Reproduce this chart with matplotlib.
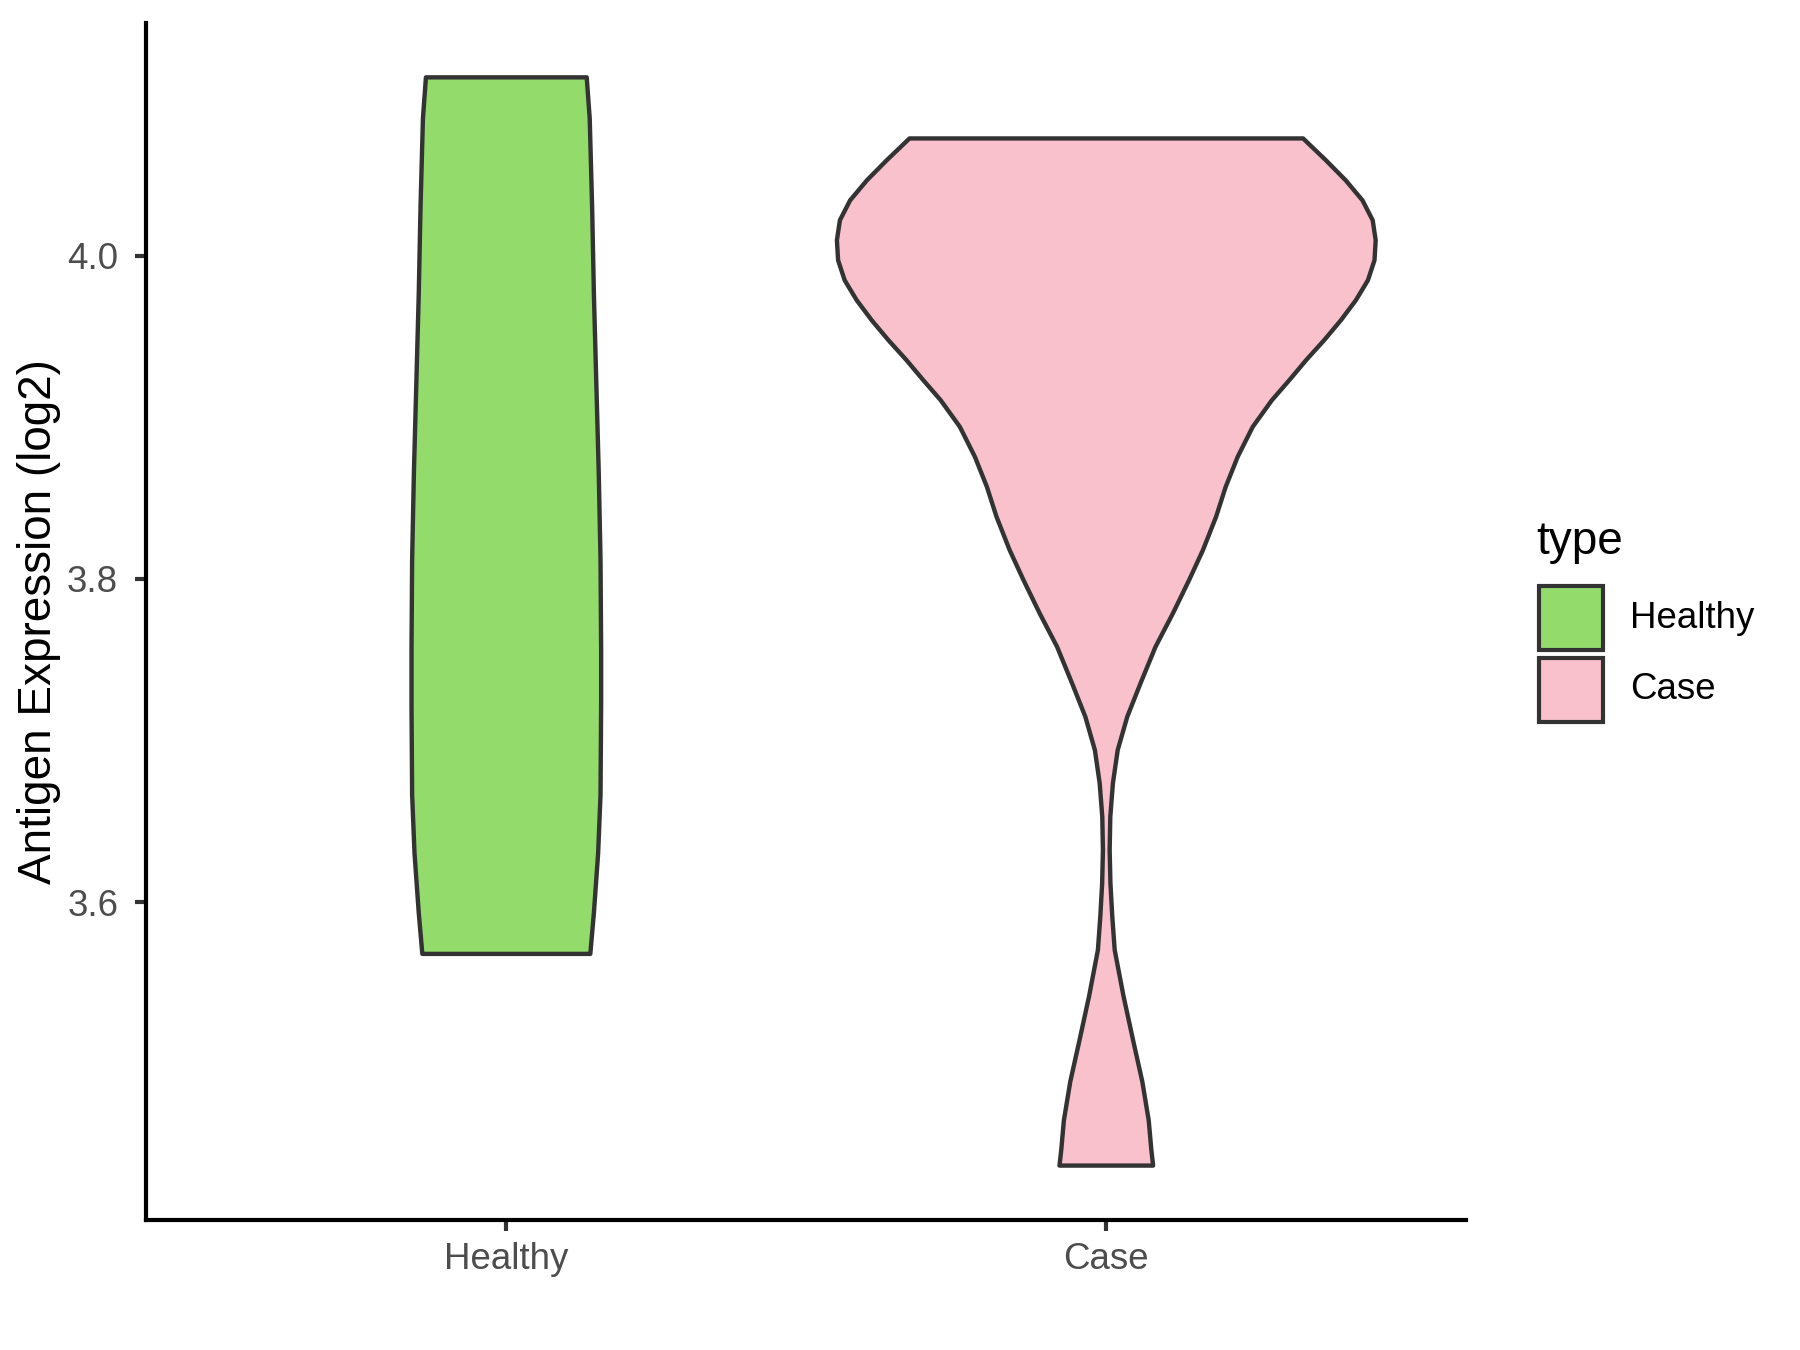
import numpy as np
import matplotlib.pyplot as plt
from matplotlib.patches import Rectangle

plt.rcParams['font.family'] = ['Liberation Sans', 'DejaVu Sans']

groups = ['Healthy', 'Case']
fill_colors = ['#93DB6B', '#F8C1CB']
edge_color = '#333333'

# violin outlines: expression level and half width (x units)
healthy_y = [4.1104, 4.0849, 4.0303, 3.9757, 3.9211, 3.8665, 3.8119,
             3.7574, 3.7210, 3.6664, 3.6301, 3.5936, 3.5680]
healthy_w = [0.134, 0.139, 0.143, 0.146, 0.150, 0.154, 0.157,
             0.158, 0.158, 0.157, 0.153, 0.146, 0.140]

case_y = [4.0726, 4.0591, 4.0467, 4.0343, 4.0220, 4.0096, 3.9972, 3.9848,
          3.9725, 3.9601, 3.9477, 3.9354, 3.9230, 3.9106, 3.8941, 3.8756,
          3.8570, 3.8385, 3.8178, 3.7993, 3.7787, 3.7580, 3.7354, 3.7148,
          3.6941, 3.6735, 3.6529, 3.6323, 3.6117, 3.5910, 3.5704, 3.5420,
          3.5140, 3.4890, 3.4650, 3.4470, 3.4370]
case_w = [0.328, 0.366, 0.399, 0.427, 0.444, 0.449, 0.447, 0.436,
          0.416, 0.391, 0.363, 0.333, 0.305, 0.276, 0.244, 0.219,
          0.199, 0.183, 0.161, 0.138, 0.111, 0.082, 0.057, 0.035,
          0.019, 0.011, 0.0067, 0.0056, 0.0069, 0.010, 0.014, 0.0286,
          0.045, 0.060, 0.0707, 0.075, 0.078]

y_ticks = [3.6, 3.8, 4.0]

fig = plt.figure(figsize=(6, 4.5), dpi=300)
ax = fig.add_axes([0.0813, 0.0963, 0.7333, 0.8867])

profiles = [(healthy_y, healthy_w), (case_y, case_w)]
for i, (ys, ws) in enumerate(profiles):
    pos = i + 1
    ys = np.array(ys)
    ws = np.array(ws)
    xs = np.concatenate([pos - ws, (pos + ws)[::-1]])
    yy = np.concatenate([ys, ys[::-1]])
    ax.fill(xs, yy, facecolor=fill_colors[i], edgecolor=edge_color,
            linewidth=1.05, joinstyle='round')

# ggplot style limits: discrete x with 0.6 padding, 5% y expansion
ymin = min(min(healthy_y), min(case_y))
ymax = max(max(healthy_y), max(case_y))
pad = (ymax - ymin) * 0.05
ax.set_ylim(ymin - pad, ymax + pad)
ax.set_xlim(0.4, 2.6)

ax.set_xticks([1, 2])
ax.set_xticklabels(groups)
ax.set_yticks(y_ticks)
ax.set_yticklabels([f'{t:.1f}' for t in y_ticks])

for side in ['top', 'right']:
    ax.spines[side].set_visible(False)
for side in ['left', 'bottom']:
    ax.spines[side].set_color('black')
    ax.spines[side].set_linewidth(1.0)

ax.tick_params(axis='both', colors='#333333', width=1.0, length=2.75,
               labelsize=8.8, labelcolor='#4D4D4D')
ax.tick_params(axis='y', pad=4)
ax.tick_params(axis='x', pad=2.5)

ax.set_ylabel('Antigen Expression (log2)', fontsize=11, color='black')
ax.yaxis.set_label_coords(-0.081, 0.5)
ax.yaxis.label.set_verticalalignment('center')

# legend drawn by hand to match ggplot guide
fig.text(0.8533, 0.5893, 'type', fontsize=11, ha='left', va='baseline')
key_bottoms = [0.5185, 0.4652]
for i, g in enumerate(groups):
    fig.add_artist(Rectangle((0.855, key_bottoms[i]), 0.0356, 0.0474,
                             transform=fig.transFigure,
                             facecolor=fill_colors[i], edgecolor=edge_color,
                             linewidth=1.0))
    fig.text(0.9056, key_bottoms[i] + 0.0237, g, fontsize=8.8,
             ha='left', va='center')

fig.savefig('out.png', dpi=300, facecolor='white')
